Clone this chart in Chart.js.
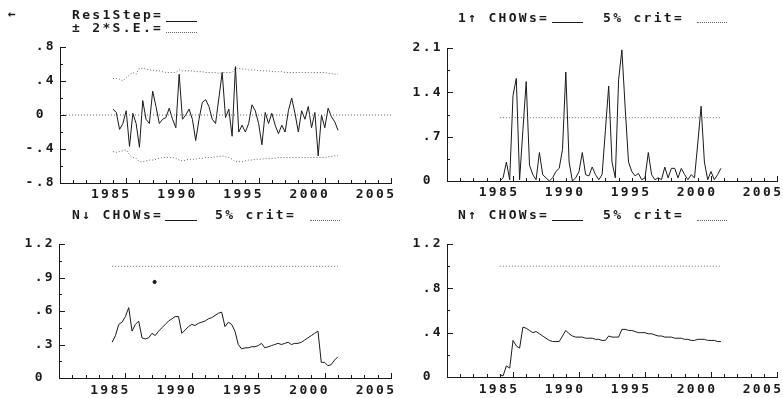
<!DOCTYPE html>
<html><head><meta charset="utf-8">
<script src="https://cdn.jsdelivr.net/npm/chart.js@4"></script>
<style>
html,body{margin:0;padding:0;background:#fff;width:783px;height:398px;overflow:hidden;position:relative}
canvas{position:absolute}
.t{position:absolute;font:bold 13px "DejaVu Sans Mono",monospace;letter-spacing:2.3px;color:#1a1a1a;white-space:pre;line-height:13px}
.sl{position:absolute;height:0;border-top:1px solid #1a1a1a}
.dl{position:absolute;height:0;border-top:1px dotted #666}
</style></head><body>
<canvas id="c1" width="403" height="200" style="left:0;top:0"></canvas>
<canvas id="c2" width="380" height="200" style="left:403px;top:0"></canvas>
<canvas id="c3" width="403" height="198" style="left:0;top:200px"></canvas>
<canvas id="c4" width="380" height="198" style="left:403px;top:200px"></canvas>

<div class="t" style="left:8px;top:7px">←</div>
<div class="t" style="left:72px;top:8px">Res1Step=</div><div class="sl" style="left:166px;top:21px;width:31px"></div>
<div class="t" style="left:72px;top:21px">± 2*S.E.=</div><div class="dl" style="left:166px;top:32px;width:31px"></div>

<div class="t" style="left:458px;top:11px">1↑ CHOWs=</div><div class="sl" style="left:552px;top:22px;width:31px"></div>
<div class="t" style="left:603px;top:11px">5% crit=</div><div class="dl" style="left:697px;top:22px;width:30px"></div>

<div class="t" style="left:72px;top:208px">N↓ CHOWs=</div><div class="sl" style="left:165px;top:220px;width:32px"></div>
<div class="t" style="left:215px;top:208px">5% crit=</div><div class="dl" style="left:310px;top:220px;width:30px"></div>

<div class="t" style="left:458px;top:208px">N↑ CHOWs=</div><div class="sl" style="left:552px;top:220px;width:31px"></div>
<div class="t" style="left:603px;top:208px">5% crit=</div><div class="dl" style="left:697px;top:220px;width:30px"></div>

<script>
// ---- data ----
const startYear = 1984;          // first quarter of the recursive sample
const perYear = 4;               // quarterly data
const xTickYears = [1985, 1990, 1995, 2000, 2005];
const xMin = 1980, xMax = 2005;

const res1Step = [0.07,0.03,-0.17,-0.1,0.05,-0.37,0.02,-0.1,-0.38,0.17,
  -0.05,-0.1,0.28,0.1,-0.1,-0.05,-0.03,0.08,-0.05,-0.15,
  0.48,-0.05,0.0,0.07,-0.05,-0.3,-0.05,0.15,0.18,0.1,
  -0.05,-0.1,0.2,0.5,-0.03,0.07,-0.25,0.57,-0.2,-0.12,
  -0.2,-0.1,0.12,0.05,-0.1,-0.35,0.03,-0.1,0.02,-0.12,
  -0.22,-0.12,-0.2,0.05,0.2,0.02,-0.2,0.05,-0.05,0.1,
  -0.15,0.03,-0.48,0.0,-0.15,0.08,-0.02,-0.08,-0.18];
const seUpper = [0.43,0.43,0.42,0.40,0.44,0.47,0.50,0.48,0.55,0.55,
  0.54,0.53,0.53,0.52,0.52,0.51,0.50,0.50,0.50,0.50,
  0.53,0.52,0.52,0.52,0.52,0.51,0.51,0.51,0.50,0.50,
  0.50,0.50,0.49,0.50,0.50,0.50,0.50,0.55,0.55,0.54,
  0.54,0.53,0.53,0.53,0.52,0.52,0.52,0.52,0.51,0.51,
  0.51,0.51,0.50,0.50,0.50,0.50,0.50,0.50,0.50,0.50,
  0.50,0.50,0.50,0.50,0.50,0.49,0.49,0.48,0.48];
const seLower = [-0.43,-0.44,-0.43,-0.42,-0.41,-0.47,-0.50,-0.51,-0.55,-0.55,
  -0.54,-0.53,-0.53,-0.52,-0.51,-0.50,-0.50,-0.50,-0.50,-0.51,
  -0.53,-0.54,-0.53,-0.52,-0.52,-0.52,-0.51,-0.51,-0.50,-0.50,
  -0.50,-0.49,-0.49,-0.48,-0.49,-0.50,-0.52,-0.55,-0.55,-0.55,
  -0.54,-0.53,-0.53,-0.52,-0.52,-0.52,-0.51,-0.51,-0.51,-0.51,
  -0.50,-0.50,-0.50,-0.50,-0.50,-0.50,-0.50,-0.50,-0.50,-0.50,
  -0.50,-0.50,-0.50,-0.50,-0.50,-0.49,-0.49,-0.48,-0.48];
const chow1Up = [0,0.05,0.3,0.02,1.35,1.62,0.02,0.8,1.57,0.25,
  0.1,0.02,0.45,0.1,0.05,0.0,0.05,0.15,0.2,0.5,
  1.72,0.3,0.0,0.05,0.15,0.45,0.1,0.08,0.22,0.1,
  0.02,0.1,0.8,1.5,0.3,0.05,1.6,2.07,1.15,0.3,
  0.15,0.08,0.12,0.02,0.05,0.45,0.1,0.02,0.05,0.02,
  0.22,0.05,0.2,0.2,0.05,0.2,0.1,0.02,0.1,0.05,
  0.6,1.18,0.3,0.02,0.15,0.02,0.1,0.2];
const chowNdown = [0.32,0.38,0.48,0.50,0.55,0.63,0.42,0.48,0.51,0.36,
  0.35,0.36,0.40,0.38,0.42,0.45,0.48,0.51,0.53,0.55,
  0.55,0.40,0.43,0.46,0.48,0.47,0.49,0.50,0.51,0.53,
  0.54,0.56,0.58,0.59,0.46,0.50,0.48,0.42,0.30,0.26,
  0.27,0.27,0.28,0.28,0.29,0.31,0.27,0.28,0.29,0.30,
  0.31,0.30,0.31,0.32,0.30,0.31,0.31,0.32,0.34,0.36,
  0.38,0.40,0.42,0.14,0.14,0.11,0.12,0.16,0.19];
const chowNdownDot = [{year:1987.2, value:0.86}];
const chowNup = [0.02,0.01,0.10,0.08,0.33,0.28,0.26,0.45,0.44,0.42,
  0.40,0.41,0.39,0.37,0.35,0.33,0.32,0.32,0.32,0.37,
  0.42,0.39,0.37,0.36,0.36,0.36,0.35,0.35,0.35,0.34,
  0.34,0.33,0.33,0.37,0.36,0.36,0.36,0.43,0.43,0.42,
  0.42,0.41,0.40,0.40,0.40,0.39,0.39,0.38,0.37,0.37,
  0.36,0.36,0.36,0.35,0.35,0.35,0.34,0.34,0.33,0.33,
  0.34,0.34,0.34,0.33,0.33,0.33,0.32,0.32];
const crit5 = 1.0;
const yTicksRes = [-0.8,-0.4,0,0.4,0.8];
const yTicksChow1 = [0,0.7,1.4,2.1];
const yTicksNdown = [0,0.3,0.6,0.9,1.2];
const yTicksNup = [0,0.4,0.8,1.2];

// ---- helpers ----
const INK = '#1a1a1a';
const LS = '2.3px';
const FONT = {family:'"DejaVu Sans Mono", monospace', size:13, weight:'bold'};
const pts = arr => arr.map((v,i)=>({x:startYear + i/perYear, y:v}));
const lastX = arr => startYear + (arr.length-1)/perYear;
const fmtY = v => {
  if (Math.abs(v) < 1e-9) return '0 ';
  const s = Math.abs(v).toFixed(1).replace(/^0/, '');
  return (v < 0 ? '-' : '') + s;
};

const inTicks = {
  id:'inTicks',
  afterDraw(chart, args, opts){
    const {ctx, chartArea:a} = chart;
    const x = chart.scales.x, y = chart.scales.y;
    ctx.save();
    ctx.strokeStyle = INK; ctx.lineWidth = 1; ctx.beginPath();
    for (let yr = xMin; yr <= xMax; yr++) {
      const px = Math.round(x.getPixelForValue(yr)) + 0.5;
      const len = (yr % 5 === 0) ? 5 : 3;
      ctx.moveTo(px, a.bottom); ctx.lineTo(px, a.bottom - len);
    }
    const t = opts.yticks;
    for (let i = 0; i < t.length; i++) {
      const py = Math.round(y.getPixelForValue(t[i])) + 0.5;
      ctx.moveTo(a.left, py); ctx.lineTo(a.left + 6, py);
      if (i < t.length - 1) {
        const pm = Math.round(y.getPixelForValue((t[i] + t[i+1]) / 2)) + 0.5;
        ctx.moveTo(a.left, pm); ctx.lineTo(a.left + 3, pm);
      }
    }
    ctx.stroke();
    ctx.restore();
  }
};
const spacing = {
  id:'spacing',
  beforeUpdate(c){ c.ctx.letterSpacing = LS; },
  beforeDraw(c){ c.ctx.letterSpacing = LS; }
};

const solid = data => ({data, borderColor:INK, borderWidth:1, pointRadius:0, tension:0, fill:false});
const dotted = data => ({data, borderColor:'#666', borderWidth:1, borderDash:[1,2], pointRadius:0, tension:0, fill:false});

function makeChart(id, cfg){
  return new Chart(document.getElementById(id), {
    type:'line',
    data:{datasets:cfg.datasets},
    options:{
      responsive:false, animation:false, devicePixelRatio:1,
      layout:{padding:cfg.pad},
      plugins:{legend:{display:false}, tooltip:{enabled:false}, title:{display:false},
               inTicks:{yticks:cfg.yticks}},
      scales:{
        x:{type:'linear', min:xMin, max:xMax,
           afterBuildTicks:s=>{ s.ticks = xTickYears.map(v=>({value:v})); },
           afterFit:s=>{ s.height = cfg.xh; s.paddingLeft = 0; s.paddingRight = 0; },
           ticks:{autoSkip:false, maxRotation:0, minRotation:0, labelOffset:cfg.xoff, padding:cfg.xpad,
                  color:INK, font:FONT, callback:v=>String(v)},
           grid:{display:false, drawTicks:false}, border:{display:true, color:INK, width:1}},
        y:{type:'linear', min:cfg.yticks[0], max:cfg.yticks[cfg.yticks.length-1],
           afterBuildTicks:s=>{ s.ticks = cfg.yticks.map(v=>({value:v})); },
           afterFit:s=>{ s.width = cfg.yw; s.paddingTop = 0; s.paddingBottom = 0; },
           ticks:{padding:4, color:INK, font:FONT, callback:fmtY},
           grid:{display:false, drawTicks:false}, border:{display:true, color:INK, width:1}}
      }
    },
    plugins:[spacing, inTicks]
  });
}

makeChart('c1', {
  pad:{left:0, top:47, right:12, bottom:0}, yw:60, xh:17, xpad:4, xoff:-15, yticks:yTicksRes,
  datasets:[
    dotted([{x:xMin,y:0},{x:xMax,y:0}]),
    dotted(pts(seUpper)),
    dotted(pts(seLower)),
    solid(pts(res1Step))
  ]
});
makeChart('c2', {
  pad:{left:0, top:48, right:6, bottom:0}, yw:44, xh:19, xpad:4, xoff:-14, yticks:yTicksChow1,
  datasets:[
    dotted([{x:startYear,y:crit5},{x:lastX(chow1Up),y:crit5}]),
    solid(pts(chow1Up))
  ]
});
makeChart('c3', {
  pad:{left:0, top:44, right:12, bottom:0}, yw:59, xh:20, xpad:5, xoff:-15, yticks:yTicksNdown,
  datasets:[
    dotted([{x:startYear,y:crit5},{x:lastX(chowNdown),y:crit5}]),
    solid(pts(chowNdown)),
    {type:'scatter', data:chowNdownDot.map(d=>({x:d.year,y:d.value})), pointRadius:1.6,
     pointBackgroundColor:INK, pointBorderColor:INK, showLine:false}
  ]
});
makeChart('c4', {
  pad:{left:0, top:44, right:6, bottom:0}, yw:44, xh:21, xpad:5, xoff:-14, yticks:yTicksNup,
  datasets:[
    dotted([{x:startYear,y:crit5},{x:lastX(chowNup),y:crit5}]),
    solid(pts(chowNup))
  ]
});
</script>
</body></html>
